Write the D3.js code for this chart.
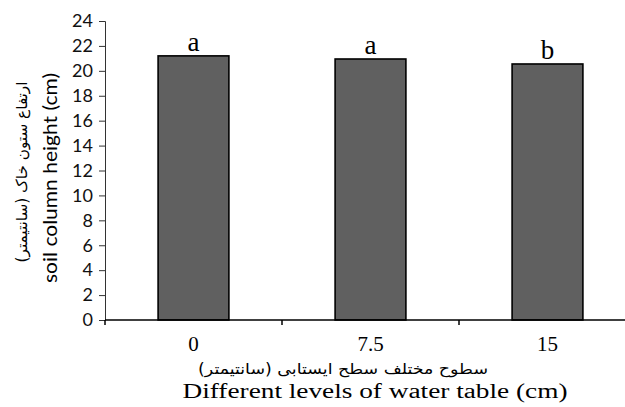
<!DOCTYPE html>
<html>
<head>
<meta charset="utf-8">
<script src="https://cdn.jsdelivr.net/npm/d3@7"></script>
<style>
  body { margin: 0; background: #fff; }
  svg { display: block; }
</style>
</head>
<body>
<div id="chart"></div>
<script>
// chart data
var levels = ["0", "7.5", "15"];
var heights = [21.2, 20.95, 20.55];
var letters = ["a", "a", "b"];
var yTicks = [0, 2, 4, 6, 8, 10, 12, 14, 16, 18, 20, 22, 24];

var width = 625, height = 407;
var plotLeft = 105, plotTop = 21, plotBottom = 320, plotRight = 636;

var svg = d3.select("#chart").append("svg")
    .attr("width", width)
    .attr("height", height)
    .style("background", "#fff");

var x = d3.scaleBand().domain(levels).range([plotLeft, plotRight]).paddingInner(0.6).paddingOuter(0.3);
var y = d3.scaleLinear().domain([0, 24]).range([plotBottom, plotTop]);

// bars
svg.selectAll("rect.bar").data(heights)
    .enter().append("rect")
    .attr("class", "bar")
    .attr("x", function (d, i) { return x(levels[i]); })
    .attr("width", x.bandwidth())
    .attr("y", function (d) { return y(d); })
    .attr("height", function (d) { return y(0) - y(d); })
    .style("fill", "#606060")
    .style("stroke", "#000")
    .style("stroke-width", 1.6);

// significance letters
svg.selectAll("text.letter").data(letters)
    .enter().append("text")
    .attr("class", "letter")
    .attr("x", function (d, i) { return x(levels[i]) + x.bandwidth() / 2; })
    .attr("y", function (d, i) { return y(heights[i]) - 5; })
    .attr("text-anchor", "middle")
    .style("font-family", "'Liberation Serif', serif")
    .style("font-size", "27px")
    .text(function (d) { return d; });

// y axis
var yAxis = svg.append("g")
    .attr("transform", "translate(" + plotLeft + ",0)")
    .call(d3.axisLeft(y).tickValues(yTicks).tickSize(6).tickPadding(6));
yAxis.select(".domain").attr("stroke", "#333");
yAxis.selectAll(".tick line").attr("stroke", "#333");
yAxis.selectAll("text")
    .style("font-family", "Lato, 'Open Sans', sans-serif")
    .style("font-size", "18px")
    .style("fill", "#111");

// x axis
var xg = svg.append("g").attr("transform", "translate(0," + plotBottom + ")");
xg.append("line")
    .attr("x1", plotLeft).attr("x2", width)
    .attr("stroke", "#000").attr("stroke-width", 1.5);
var bounds = [plotLeft, x.step() * 1 + plotLeft, x.step() * 2 + plotLeft];
xg.selectAll("line.tk").data(bounds)
    .enter().append("line")
    .attr("class", "tk")
    .attr("x1", function (d) { return d; })
    .attr("x2", function (d) { return d; })
    .attr("y1", 0).attr("y2", 5)
    .attr("stroke", "#000").attr("stroke-width", 1.5);
xg.selectAll("text").data(levels)
    .enter().append("text")
    .attr("x", function (d) { return x(d) + x.bandwidth() / 2; })
    .attr("y", 31)
    .attr("text-anchor", "middle")
    .style("font-family", "'Liberation Serif', serif")
    .style("font-size", "21px")
    .text(function (d) { return d; });

// axis titles
svg.append("text")
    .attr("x", 343).attr("y", 374)
    .attr("text-anchor", "middle")
    .attr("direction", "rtl")
    .attr("textLength", 290)
    .attr("lengthAdjust", "spacingAndGlyphs")
    .style("font-family", "'DejaVu Sans', sans-serif")
    .style("font-size", "15px")
    .text("سطوح مختلف سطح ایستابی (سانتیمتر)");
svg.append("text")
    .attr("x", 375).attr("y", 398)
    .attr("text-anchor", "middle")
    .attr("textLength", 385)
    .attr("lengthAdjust", "spacingAndGlyphs")
    .style("font-family", "'Liberation Serif', serif")
    .style("font-size", "20px")
    .text("Different levels of water table (cm)");

svg.append("text")
    .attr("transform", "translate(57,178) rotate(-90)")
    .attr("text-anchor", "middle")
    .attr("textLength", 210)
    .attr("lengthAdjust", "spacingAndGlyphs")
    .style("font-family", "Lato, 'Open Sans', sans-serif")
    .style("font-size", "20px")
    .text("soil column height (cm)");
svg.append("text")
    .attr("transform", "translate(27,172) rotate(-90)")
    .attr("text-anchor", "middle")
    .attr("direction", "rtl")
    .attr("textLength", 181)
    .attr("lengthAdjust", "spacingAndGlyphs")
    .style("font-family", "'DejaVu Sans', sans-serif")
    .style("font-size", "15px")
    .text("ارتفاع ستون خاک (سانتیمتر)");
</script>
</body>
</html>
